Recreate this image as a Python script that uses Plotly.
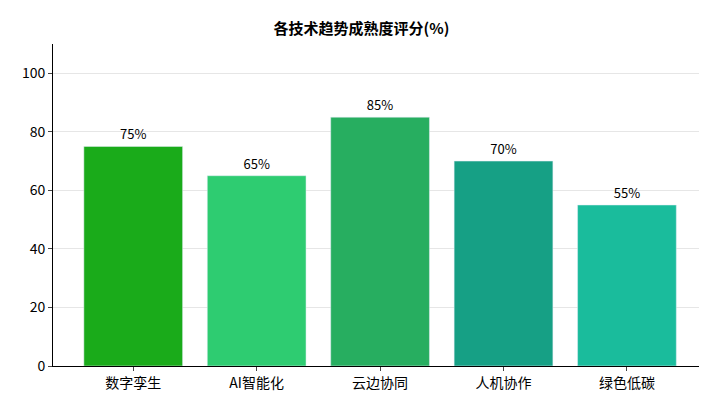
import plotly.graph_objects as go

categories = ["数字孪生", "AI智能化", "云边协同", "人机协作", "绿色低碳"]
values = [75, 65, 85, 70, 55]
colors = ["#1aab1a", "#2ecc71", "#27ae60", "#16a085", "#1abc9c"]

fig = go.Figure(go.Bar(
    x=categories, y=values, marker_color=colors, width=0.8,
    text=[f"{v}%" for v in values], textposition="outside",
    textfont=dict(size=13, color="black"), cliponaxis=False,
))
fig.update_layout(
    width=707, height=406,
    margin=dict(l=45, r=14, t=36, b=48),
    plot_bgcolor="white", paper_bgcolor="white",
    font=dict(family="Noto Sans CJK SC", size=14, color="black"),
    title=dict(text="<b>各技术趋势成熟度评分(%)</b>", x=0.5, xanchor="center",
               yref="container", y=0.95, yanchor="middle", font=dict(size=15)),
    showlegend=False,
)
fig.update_yaxes(range=[0, 110], tickvals=[0, 20, 40, 60, 80, 100], showgrid=True,
                 gridcolor="#e6e6e6", showline=True, linecolor="black", ticks="outside",
                 ticklen=4, zeroline=False)
fig.update_xaxes(range=[-0.65, 4.6], showline=True, linecolor="black", ticks="outside", ticklen=4)
fig.write_html("out.html")
